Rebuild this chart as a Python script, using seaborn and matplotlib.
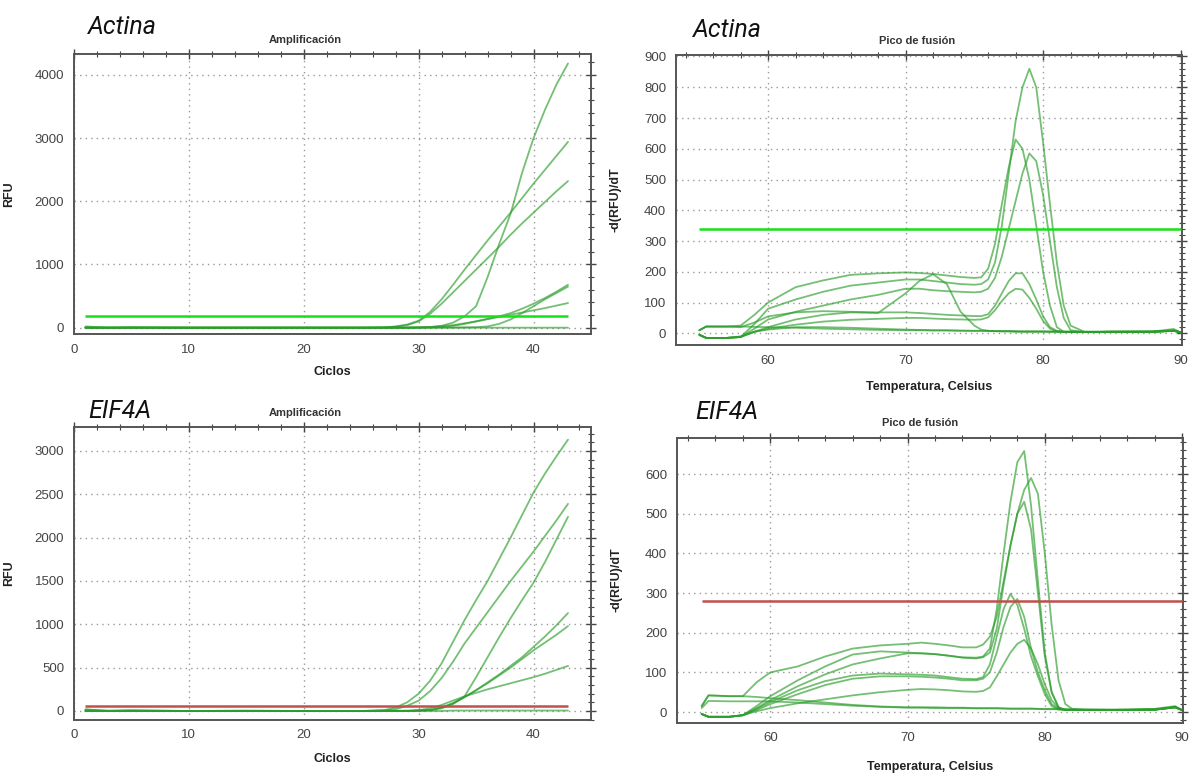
import pandas as pd
import matplotlib
matplotlib.use("Agg")
import matplotlib.pyplot as plt
import seaborn as sns
from matplotlib.ticker import MultipleLocator

# ---------------- datos: amplificacion ----------------
ciclos = [1, 3, 5, 10, 15, 20, 25, 27, 28, 29, 30, 31, 32, 33, 34, 35, 36, 37, 38, 39, 40, 41, 42, 43]

act_amp_a = [0, 0, 0, 0, 0, 0, 0, 0, 0, 2, 5, 10, 30, 80, 180, 340, 800, 1320, 1800, 2450, 3000, 3450, 3850, 4180]
act_amp_b = [0, 0, 0, 0, 0, 0, 0, 5, 20, 50, 110, 250, 450, 680, 920, 1150, 1380, 1600, 1820, 2050, 2280, 2500, 2720, 2940]
act_amp_c = [0, 0, 0, 0, 0, 0, 0, 3, 15, 40, 100, 220, 380, 560, 740, 920, 1100, 1280, 1470, 1650, 1820, 1990, 2160, 2320]
act_amp_d = [0, 0, 0, 0, 0, 0, 0, 0, 0, 0, 2, 5, 10, 30, 60, 100, 140, 180, 230, 300, 380, 470, 570, 680]
act_amp_e = [0, 0, 0, 0, 0, 0, 0, 0, 0, 0, 0, 0, 2, 3, 5, 8, 20, 60, 130, 230, 340, 450, 550, 650]
act_amp_f = [0, 0, 0, 0, 0, 0, 0, 0, 0, 0, 5, 10, 25, 40, 70, 100, 135, 170, 205, 240, 275, 310, 350, 390]
act_amp_g = [20, 0, 8, 0, 0, 0, 0, 0, 0, 0, 0, 0, 0, 0, 0, 0, 0, 0, 0, 0, 0, 0, 0, 0]
act_umbral_amp = 180

eif_amp_a = [20, 0, 5, 0, 0, 0, 0, 10, 40, 100, 200, 350, 550, 800, 1050, 1280, 1500, 1750, 2000, 2260, 2520, 2740, 2940, 3130]
eif_amp_b = [0, 0, 0, 0, 0, 0, 0, 5, 20, 60, 120, 230, 380, 570, 780, 960, 1140, 1320, 1500, 1670, 1840, 2020, 2200, 2390]
eif_amp_c = [0, 0, 0, 0, 0, 0, 0, 0, 0, 0, 5, 10, 30, 80, 170, 390, 620, 850, 1070, 1280, 1480, 1720, 1980, 2240]
eif_amp_d = [0, 0, 0, 0, 0, 0, 0, 0, 0, 0, 5, 10, 40, 90, 160, 240, 330, 420, 520, 620, 740, 860, 990, 1130]
eif_amp_e = [0, 0, 0, 0, 0, 0, 0, 0, 0, 0, 5, 10, 40, 90, 160, 240, 320, 410, 500, 600, 700, 790, 880, 980]
eif_amp_f = [0, 0, 0, 0, 0, 0, 0, 0, 2, 5, 10, 30, 70, 120, 170, 210, 250, 285, 320, 355, 390, 430, 475, 520]
eif_amp_g = [15, 5, 10, 0, 5, 0, 0, 5, 0, 0, 0, 0, 0, 5, 5, 5, 5, 5, 5, 5, 5, 5, 5, 5]
eif_umbral_amp = 60

# ---------------- datos: pico de fusion ----------------
temp = [55, 55.5, 57, 58, 59, 60, 62, 64, 66, 68, 70, 71, 72, 73, 74, 75, 75.5, 76, 76.5,
        77, 77.5, 78, 78.5, 79, 79.5, 80, 80.5, 81, 81.5, 82, 83, 85, 88, 89.5, 90]

act_fus_a = [10, 22, 22, 25, 60, 100, 150, 172, 190, 195, 198, 196, 193, 188, 183, 180, 182, 210, 290,
             420, 540, 630, 600, 500, 350, 200, 90, 20, 5, 4, 4, 5, 5, 8, 3]
act_fus_b = [-5, -15, -15, -12, 30, 80, 110, 135, 155, 165, 175, 175, 170, 165, 160, 158, 160, 175, 230,
             350, 520, 690, 800, 860, 800, 620, 420, 230, 90, 25, 5, 5, 5, 10, 3]
act_fus_c = [-5, -15, -15, -12, 15, 45, 70, 90, 110, 125, 145, 145, 140, 137, 135, 133, 135, 145, 180,
             250, 340, 430, 520, 585, 560, 450, 300, 150, 50, 10, 4, 5, 5, 8, 3]
act_fus_d = [10, 22, 22, 20, 35, 55, 68, 72, 70, 68, 68, 66, 63, 60, 58, 56, 56, 62, 90,
             130, 170, 195, 195, 160, 110, 55, 20, 8, 5, 5, 4, 5, 5, 8, 3]
act_fus_e = [-5, -15, -15, -12, 5, 15, 28, 38, 44, 47, 50, 50, 48, 46, 45, 44, 45, 52, 75,
             105, 130, 145, 142, 115, 80, 40, 15, 6, 5, 5, 4, 5, 5, 8, 3]
act_fus_f = [-5, -15, -15, -12, 5, 20, 45, 60, 68, 66, 130, 170, 192, 160, 70, 25, 12, 8, 7,
             6, 6, 5, 5, 5, 5, 5, 5, 5, 5, 5, 4, 5, 5, 8, 3]
act_fus_g = [10, 22, 22, 22, 21, 20, 18, 15, 13, 11, 10, 10, 9, 9, 8, 8, 8, 8, 7,
             7, 7, 7, 6, 6, 6, 6, 6, 6, 5, 5, 5, 5, 6, 14, 3]
act_fus_h = [-5, -15, -15, -10, 5, 12, 20, 20, 18, 15, 12, 11, 10, 10, 9, 8, 8, 8, 7,
             7, 7, 6, 6, 6, 6, 6, 5, 5, 5, 5, 5, 5, 6, 10, 3]
act_umbral_fus = 340

eif_fus_a = [15, 42, 40, 40, 75, 100, 115, 140, 160, 168, 172, 175, 172, 168, 163, 163, 170, 190, 240,
             330, 420, 500, 560, 590, 550, 400, 220, 80, 20, 8, 5, 5, 6, 12, 5]
eif_fus_b = [-5, -12, -12, -8, 15, 40, 80, 115, 145, 153, 150, 148, 146, 142, 138, 137, 140, 160, 260,
             400, 530, 630, 658, 520, 330, 150, 50, 12, 5, 5, 5, 5, 6, 12, 5]
eif_fus_c = [-5, -12, -12, -8, 10, 30, 65, 95, 120, 135, 148, 148, 146, 142, 137, 135, 138, 150, 210,
             320, 420, 500, 530, 460, 300, 140, 50, 12, 5, 5, 5, 5, 6, 12, 5]
eif_fus_d = [-5, -12, -12, -8, 8, 25, 55, 78, 92, 97, 95, 94, 92, 88, 84, 83, 88, 120, 190,
             260, 298, 270, 210, 140, 90, 45, 15, 6, 5, 5, 5, 5, 6, 12, 5]
eif_fus_e = [-5, -12, -12, -8, 5, 20, 45, 68, 84, 90, 90, 89, 87, 84, 80, 80, 84, 100, 150,
             215, 265, 285, 240, 160, 100, 55, 20, 8, 5, 5, 5, 5, 6, 12, 5]
eif_fus_f = [-5, -12, -12, -8, 2, 10, 22, 32, 42, 50, 56, 58, 57, 55, 52, 51, 53, 62, 90,
             120, 150, 172, 182, 160, 120, 70, 30, 10, 5, 5, 5, 5, 6, 12, 5]
eif_fus_g = [15, 42, 40, 40, 38, 35, 30, 24, 18, 14, 12, 12, 12, 11, 11, 10, 10, 10, 10,
             9, 9, 9, 9, 9, 8, 8, 8, 8, 7, 7, 7, 6, 8, 15, 5]
eif_fus_h = [10, 28, 27, 27, 27, 27, 24, 20, 16, 13, 11, 11, 10, 10, 10, 9, 9, 9, 9,
             9, 8, 8, 8, 8, 8, 7, 7, 7, 7, 7, 6, 6, 7, 13, 5]
eif_umbral_fus = 280

VERDE = "#2a9d2a"
VERDE_UMBRAL = "#16e016"
ROJO_UMBRAL = "#c0504d"

sns.set_theme(style="white")
plt.rcParams["font.family"] = ["Liberation Sans Narrow", "Liberation Sans", "DejaVu Sans"]


def largo(x, curvas):
    filas = []
    for nombre, valores in curvas.items():
        for xi, yi in zip(x, valores):
            filas.append({"x": xi, "y": yi, "curva": nombre})
    return pd.DataFrame(filas)


def panel(ax, df, umbral, color_umbral, x0, x1, titulo, tx, xlabel, ylabel):
    sns.lineplot(data=df, x="x", y="y", units="curva", estimator=None, sort=False,
                 color=VERDE, alpha=0.65, lw=1.3, ax=ax, legend=False)
    ax.hlines(umbral, x0, x1, color=color_umbral, lw=1.8, zorder=3)
    ax.grid(True, which="major", color="#999999", linestyle=(0, (1, 3)), lw=1)
    for s in ax.spines.values():
        s.set_color("#555555")
        s.set_linewidth(1.4)
    ax.tick_params(which="both", direction="inout", top=True, right=True,
                   color="#444444", labelsize=9.5, labelcolor="#444444")
    ax.tick_params(which="major", length=7, width=1)
    ax.tick_params(which="minor", length=4, width=0.8)
    ax.set_title(titulo, x=tx, fontsize=8, fontweight="bold", color="#333333", pad=8)
    ax.set_xlabel(xlabel, fontsize=9, fontweight="bold", color="#222222")
    ax.set_ylabel(ylabel, fontsize=9, fontweight="bold", color="#222222")


fig = plt.figure(figsize=(11.99, 7.73), dpi=100)

# Actina amplificacion
ax1 = fig.add_axes([0.0617, 0.5679, 0.4312, 0.3622])
df1 = largo(ciclos, {"a": act_amp_a, "b": act_amp_b, "c": act_amp_c, "d": act_amp_d,
                     "e": act_amp_e, "f": act_amp_f, "g": act_amp_g})
panel(ax1, df1, act_umbral_amp, VERDE_UMBRAL, ciclos[0], ciclos[-1],
      "Amplificación", 0.447, "Ciclos", "RFU")
ax1.set_xlim(0, 45)
ax1.set_ylim(-100, 4330)
ax1.xaxis.set_major_locator(MultipleLocator(10))
ax1.xaxis.set_minor_locator(MultipleLocator(2))
ax1.yaxis.set_major_locator(MultipleLocator(1000))
ax1.yaxis.set_minor_locator(MultipleLocator(200))
ax1.xaxis.set_label_coords(0.5, -0.115)
ax1.yaxis.set_label_coords(-0.114, 0.5)

# Actina pico de fusion
ax2 = fig.add_axes([0.5638, 0.5537, 0.422, 0.3752])
df2 = largo(temp, {"a": act_fus_a, "b": act_fus_b, "c": act_fus_c, "d": act_fus_d,
                   "e": act_fus_e, "f": act_fus_f, "g": act_fus_g, "h": act_fus_h})
panel(ax2, df2, act_umbral_fus, VERDE_UMBRAL, temp[0], temp[-1],
      "Pico de fusión", 0.476, "Temperatura, Celsius", "-d(RFU)/dT")
ax2.set_xlim(53.3, 90.1)
ax2.set_ylim(-38, 905)
ax2.xaxis.set_major_locator(MultipleLocator(10))
ax2.xaxis.set_minor_locator(MultipleLocator(2))
ax2.yaxis.set_major_locator(MultipleLocator(100))
ax2.yaxis.set_minor_locator(MultipleLocator(20))
ax2.xaxis.set_label_coords(0.5, -0.125)
ax2.yaxis.set_label_coords(-0.107, 0.5)

# EIF4A amplificacion
ax3 = fig.add_axes([0.0617, 0.069, 0.4312, 0.379])
df3 = largo(ciclos, {"a": eif_amp_a, "b": eif_amp_b, "c": eif_amp_c, "d": eif_amp_d,
                     "e": eif_amp_e, "f": eif_amp_f, "g": eif_amp_g})
panel(ax3, df3, eif_umbral_amp, ROJO_UMBRAL, ciclos[0], ciclos[-1],
      "Amplificación", 0.447, "Ciclos", "RFU")
ax3.set_xlim(0, 45)
ax3.set_ylim(-100, 3280)
ax3.xaxis.set_major_locator(MultipleLocator(10))
ax3.xaxis.set_minor_locator(MultipleLocator(2))
ax3.yaxis.set_major_locator(MultipleLocator(500))
ax3.yaxis.set_minor_locator(MultipleLocator(100))
ax3.xaxis.set_label_coords(0.5, -0.115)
ax3.yaxis.set_label_coords(-0.114, 0.5)

# EIF4A pico de fusion
ax4 = fig.add_axes([0.5646, 0.065, 0.4224, 0.369])
df4 = largo(temp, {"a": eif_fus_a, "b": eif_fus_b, "c": eif_fus_c, "d": eif_fus_d,
                   "e": eif_fus_e, "f": eif_fus_f, "g": eif_fus_g, "h": eif_fus_h})
panel(ax4, df4, eif_umbral_fus, ROJO_UMBRAL, temp[0], temp[-1],
      "Pico de fusión", 0.48, "Temperatura, Celsius", "-d(RFU)/dT")
ax4.set_xlim(53.2, 90.1)
ax4.set_ylim(-27, 692)
ax4.xaxis.set_major_locator(MultipleLocator(10))
ax4.xaxis.set_minor_locator(MultipleLocator(2))
ax4.yaxis.set_major_locator(MultipleLocator(100))
ax4.yaxis.set_minor_locator(MultipleLocator(20))
ax4.xaxis.set_label_coords(0.5, -0.135)
ax4.yaxis.set_label_coords(-0.107, 0.5)

# etiquetas grandes
for xx, yy, txt in [(88, 27, "Actina"), (693, 30, "Actina"), (88, 411, "EIF4A"), (695, 412, "EIF4A")]:
    fig.text(xx / 1199, 1 - yy / 773, txt, fontsize=18, style="italic",
             family=["Roboto", "DejaVu Sans"], va="center", ha="left", color="#111111")

fig.savefig("out.png", dpi=100)
